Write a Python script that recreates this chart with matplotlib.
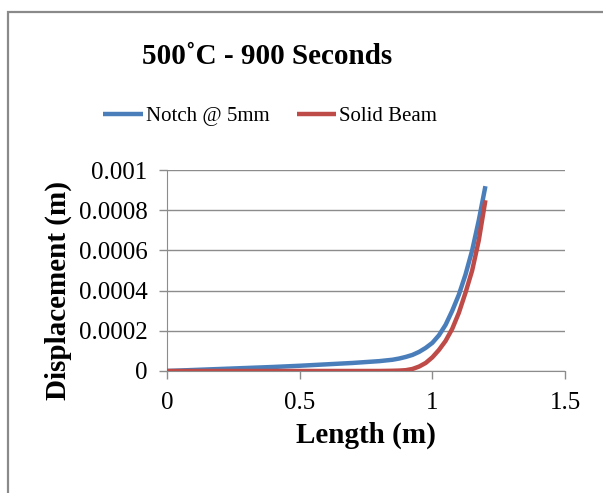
import matplotlib
matplotlib.use("Agg")
import matplotlib.pyplot as plt
from matplotlib.patches import Rectangle

plt.rcParams['font.family'] = ['Liberation Serif', 'DejaVu Serif']

# data
length = [0, 0.1, 0.2, 0.3, 0.4, 0.5, 0.6, 0.7, 0.8, 0.85, 0.875, 0.9, 0.925, 0.95, 0.975,
          1.0, 1.025, 1.05, 1.075, 1.1, 1.125, 1.15, 1.175, 1.2]
notch = [0, 0.000005, 0.00001, 0.000015, 0.00002, 0.000026, 0.000033, 0.00004, 0.000049,
         0.000056, 0.000062, 0.00007, 0.00008, 0.000095, 0.000115, 0.00014, 0.000178,
         0.00023, 0.0003, 0.00038, 0.00048, 0.0006, 0.00075, 0.00092]
solid = [0, 0, 0, 0, 0, 0, 0, 0, 0, 0.000001, 0.000002, 0.000004, 0.00001, 0.000022,
         0.00004, 0.000068, 0.000105, 0.00015, 0.00021, 0.00029, 0.00039, 0.0005,
         0.00065, 0.00085]
xticks = [0, 0.5, 1, 1.5]
yticks = [0, 0.0002, 0.0004, 0.0006, 0.0008, 0.001]
ylabels = ["0", "0.0002", "0.0004", "0.0006", "0.0008", "0.001"]

fig = plt.figure(figsize=(6.03, 4.93), dpi=100)
ax = fig.add_axes([0.277, 0.2475, 0.66, 0.4075])

# outer chart border
fig.patches.append(Rectangle((8 / 603, -0.1), 1.2, 1 - 12 / 493 + 0.1, transform=fig.transFigure,
                             fill=False, edgecolor="#8a8a8a", linewidth=1.6))

ax.plot(length, notch, color="#4a7ebb", lw=3.2, solid_capstyle="butt", label="Notch @ 5mm", zorder=3)
ax.plot(length, solid, color="#be4b48", lw=3.2, solid_capstyle="butt", label="Solid Beam", zorder=3)

ax.set_xlim(0, 1.5)
ax.set_ylim(0, 0.001)
ax.set_xticks(xticks)
ax.set_xticklabels(["0", "0.5", "1", "1.5"])
ax.set_yticks(yticks)
ax.set_yticklabels(ylabels)
ax.grid(axis="y", color="#8c8c8c", lw=1)
ax.set_axisbelow(True)
for s in ["top", "right"]:
    ax.spines[s].set_visible(False)
for s in ["left", "bottom"]:
    ax.spines[s].set_color("#8c8c8c")
ax.tick_params(colors="#8c8c8c", labelcolor="black", labelsize=18, length=6, width=1)
ax.tick_params(axis="y", pad=8)
ax.tick_params(axis="x", pad=9)

ax.set_xlabel("Length (m)", fontsize=21, fontweight="bold", labelpad=6)
ax.set_ylabel("Displacement (m)", fontsize=21, fontweight="bold")
ax.yaxis.set_label_coords(-0.24, 0.4)

fig.text(0.443, 1 - 56 / 493, "500˚C - 900 Seconds", ha="center", va="center",
         fontsize=21, fontweight="bold")
fig.legend(loc="center", bbox_to_anchor=(0.448, 1 - 116 / 493), ncol=2, frameon=False,
           fontsize=15, handlelength=1.9, handletextpad=0.15, columnspacing=1.3)

fig.savefig("out.png", dpi=100)
